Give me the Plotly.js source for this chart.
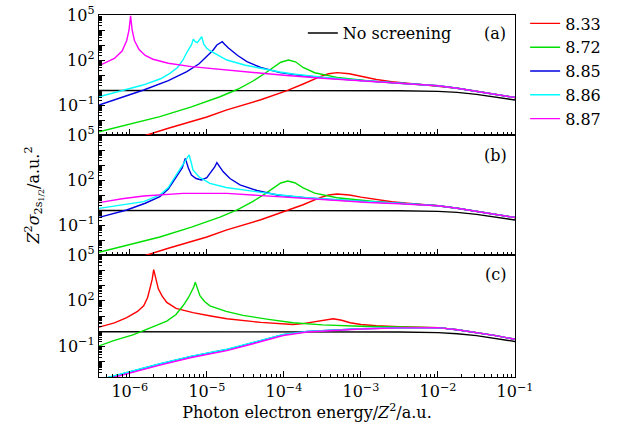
<!DOCTYPE html>
<html><head><meta charset="utf-8">
<script src="https://cdn.plot.ly/plotly-3.0.1.min.js"></script>
<style>html,body{margin:0;padding:0;background:#fff}#chart{width:620px;height:432px}</style>
</head><body><div id="chart"></div>
<script>
// Screening parameters (legend) and colours
const labels = ['8.33', '8.72', '8.85', '8.86', '8.87'];
const colors = ['#ff0000', '#00e000', '#0000e0', '#00ffff', '#ff00ff'];

// Points: [log10(E/Z^2 in a.u.), log10(Z^2 sigma in a.u.^2)]
const noScreening = [[-6.4,-0.03],[-4,-0.03],[-3,-0.03],[-2.5,-0.05],[-2,-0.09],[-1.75,-0.16],[-1.5,-0.29],[-1.25,-0.46],[-1,-0.67]];
const tailAB = [[-2.0,0.28],[-1.75,0.12],[-1.5,-0.08],[-1.25,-0.28],[-1.0,-0.5]];
const tailC  = [[-2.0,0.24],[-1.75,0.1],[-1.5,-0.09],[-1.25,-0.29],[-1.0,-0.53]];

// panel (a)
const a833 = [[-6.4,-4.0],[-5.78,-3.0],[-5.5,-2.55],[-5.0,-1.8],[-4.74,-1.33],[-4.3,-0.65],[-3.96,-0.04],[-3.75,0.4],[-3.53,0.89],[-3.42,1.08],[-3.31,1.16],[-3.15,1.08],[-3.0,0.92],[-2.8,0.7],[-2.6,0.56],[-2.4,0.45]];
const a872 = [[-6.4,-2.78],[-6.0,-2.25],[-5.61,-1.78],[-5.2,-1.12],[-4.83,-0.45],[-4.6,0.05],[-4.4,0.6],[-4.25,1.1],[-4.14,1.52],[-4.04,1.85],[-3.94,2.0],[-3.85,1.88],[-3.75,1.5],[-3.6,1.15],[-3.31,0.84],[-3.0,0.66],[-2.8,0.56],[-2.5,0.45]];
const a885 = [[-6.4,-1.0],[-6.1,-0.5],[-5.82,0.0],[-5.5,0.62],[-5.26,1.22],[-5.1,1.75],[-5.0,2.22],[-4.92,2.65],[-4.87,3.0],[-4.83,3.15],[-4.80,3.22],[-4.77,3.05],[-4.72,2.8],[-4.6,2.3],[-4.48,1.89],[-4.3,1.5],[-4.05,1.16],[-3.8,0.98],[-3.5,0.82],[-3.0,0.63],[-2.5,0.47]];
const a886 = [[-6.4,-0.45],[-6.1,-0.05],[-5.83,0.33],[-5.6,0.75],[-5.48,1.11],[-5.38,1.5],[-5.31,2.0],[-5.25,2.6],[-5.2,3.0],[-5.176,3.38],[-5.15,3.22],[-5.124,3.16],[-5.09,3.35],[-5.067,3.55],[-5.04,3.05],[-5.0,2.78],[-4.96,2.62],[-4.85,2.3],[-4.74,2.0],[-4.5,1.65],[-4.31,1.44],[-4.05,1.2],[-3.88,1.07],[-3.5,0.85],[-3.0,0.63],[-2.5,0.47]];
const a887 = [[-6.4,1.62],[-6.2,2.1],[-6.1,2.6],[-6.04,3.3],[-6.01,4.0],[-5.99,4.95],[-5.97,4.0],[-5.94,3.3],[-5.88,2.7],[-5.8,2.3],[-5.7,2.05],[-5.5,1.78],[-5.2,1.56],[-4.8,1.35],[-4.4,1.16],[-4.0,0.98],[-3.5,0.78],[-3.0,0.62],[-2.5,0.47]];

// panel (b)
const b833 = [[-6.4,-4.0],[-5.78,-3.0],[-5.5,-2.55],[-5.0,-1.8],[-4.74,-1.33],[-4.3,-0.65],[-3.96,-0.06],[-3.75,0.35],[-3.53,0.82],[-3.42,1.0],[-3.31,1.07],[-3.15,1.0],[-3.0,0.86],[-2.8,0.68],[-2.6,0.55],[-2.4,0.45]];
const b872 = [[-6.4,-2.82],[-6.0,-2.28],[-5.61,-1.8],[-5.2,-1.14],[-4.83,-0.47],[-4.6,0.03],[-4.4,0.58],[-4.25,1.06],[-4.14,1.48],[-4.04,1.8],[-3.95,1.93],[-3.86,1.82],[-3.75,1.47],[-3.6,1.12],[-3.31,0.82],[-3.0,0.65],[-2.8,0.55],[-2.5,0.45]];
const b885 = [[-6.4,-0.49],[-6.04,0.0],[-5.8,0.45],[-5.61,0.89],[-5.5,1.4],[-5.39,2.22],[-5.32,2.8],[-5.28,3.44],[-5.24,2.8],[-5.2,2.33],[-5.14,2.1],[-5.07,2.0],[-5.0,2.15],[-4.96,2.44],[-4.9,2.85],[-4.87,3.16],[-4.83,2.85],[-4.79,2.56],[-4.7,2.1],[-4.57,1.67],[-4.35,1.3],[-4.09,1.0],[-3.7,0.8],[-3.3,0.64],[-3.0,0.57],[-2.5,0.45]];
const b886 = [[-6.4,0.11],[-6.1,0.35],[-5.82,0.56],[-5.61,1.0],[-5.5,1.5],[-5.44,2.0],[-5.35,2.7],[-5.28,3.2],[-5.23,3.67],[-5.2,3.1],[-5.18,2.67],[-5.1,2.2],[-4.96,1.78],[-4.75,1.5],[-4.53,1.33],[-4.2,1.1],[-4.05,1.0],[-3.7,0.82],[-3.3,0.66],[-3.0,0.58],[-2.5,0.45]];
const b887 = [[-6.4,0.49],[-6.1,0.75],[-5.82,0.93],[-5.5,1.07],[-5.31,1.11],[-4.74,1.11],[-4.4,1.0],[-4.05,0.89],[-3.7,0.75],[-3.31,0.62],[-2.9,0.5],[-2.5,0.42]];

// panel (c)
const c833 = [[-6.4,0.27],[-6.2,0.55],[-6.04,0.89],[-5.9,1.3],[-5.82,1.67],[-5.77,2.2],[-5.74,2.78],[-5.71,3.4],[-5.69,4.04],[-5.66,3.3],[-5.63,2.78],[-5.58,2.3],[-5.52,1.89],[-5.4,1.5],[-5.18,1.22],[-4.95,1.0],[-4.74,0.82],[-4.3,0.58],[-3.88,0.44],[-3.75,0.5],[-3.62,0.6],[-3.48,0.75],[-3.36,0.82],[-3.25,0.72],[-3.14,0.56],[-3.0,0.44],[-2.8,0.36],[-2.5,0.3]];
const c872 = [[-6.4,-0.96],[-6.2,-0.6],[-5.95,-0.22],[-5.75,0.2],[-5.52,0.67],[-5.4,1.1],[-5.31,1.67],[-5.24,2.2],[-5.2,2.56],[-5.17,2.9],[-5.15,3.22],[-5.12,2.8],[-5.09,2.33],[-5.03,1.95],[-4.96,1.67],[-4.75,1.3],[-4.53,1.04],[-4.2,0.78],[-3.88,0.56],[-3.5,0.42],[-3.01,0.33],[-2.5,0.29]];
const c885 = [[-6.4,-3.2],[-6.0,-2.65],[-5.61,-2.15],[-5.2,-1.65],[-4.74,-1.2],[-4.4,-0.75],[-4.01,-0.22],[-3.7,-0.02],[-3.31,0.1],[-3.0,0.16],[-2.5,0.22]];
const c886 = [[-6.4,-3.18],[-6.0,-2.63],[-5.61,-2.13],[-5.2,-1.63],[-4.74,-1.18],[-4.4,-0.73],[-4.01,-0.21],[-3.7,-0.01],[-3.31,0.1],[-3.0,0.16],[-2.5,0.22]];
const c887 = [[-6.4,-3.28],[-6.0,-2.72],[-5.61,-2.22],[-5.2,-1.72],[-4.74,-1.27],[-4.4,-0.82],[-4.01,-0.28],[-3.7,-0.05],[-3.31,0.08],[-3.0,0.15],[-2.5,0.22]];

const panelA = [a833, a872, a885, a886, a887];
const panelB = [b833, b872, b885, b886, b887];
const panelC = [c833, c872, c885, c886, c887];

const FONT = "'DejaVu Serif', 'Liberation Serif', serif";
const FS = 16;
const pow10 = v => Math.pow(10, v);

function mk(pts, color, xa, ya, name, show, legend) {
  return {
    x: pts.map(p => pow10(p[0])), y: pts.map(p => pow10(p[1])),
    xaxis: xa, yaxis: ya, type: 'scatter', mode: 'lines',
    line: {color: color, width: 1.4}, name: name, showlegend: show,
    legend: legend || 'legend', hoverinfo: 'skip'
  };
}

const traces = [];
// panel (a) is top: x3/y3
traces.push(mk(noScreening, '#000', 'x3', 'y3', 'No screening', true, 'legend2'));
panelA.forEach((d, i) => traces.push(mk(d.concat(tailAB), colors[i], 'x3', 'y3', labels[i], true)));
traces.push(mk(noScreening, '#000', 'x2', 'y2', 'No screening', false));
panelB.forEach((d, i) => traces.push(mk(d.concat(tailAB), colors[i], 'x2', 'y2', labels[i], false)));
traces.push(mk(noScreening, '#000', 'x', 'y', 'No screening', false));
panelC.forEach((d, i) => traces.push(mk(d.concat(tailC), colors[i], 'x', 'y', labels[i], false)));

const sup = n => '10<sup>' + String(n).replace('-', '\u2212') + '</sup>';
const xDec = [-6, -5, -4, -3, -2, -1];
const xMinor = [];
for (let e = -7; e <= -2; e++) for (let m = 2; m <= 9; m++) xMinor.push(m * pow10(e));
const yDec = [-3, -2, -1, 0, 1, 2, 3, 4, 5];
const yLab = {'-1': sup(-1), '2': sup(2), '5': sup(5)};
const yMinor = [];
for (let e = -3; e <= 4; e++) for (let m = 2; m <= 9; m++) yMinor.push(m * pow10(e));

function xax(anchor, labelsOn) {
  return {
    type: 'log', range: [-6.4, -1], anchor: anchor, domain: [0, 1],
    tickvals: xDec.map(pow10), ticktext: xDec.map(sup),
    showticklabels: labelsOn, ticks: 'inside', ticklen: 6, tickcolor: '#000', tickwidth: 1,
    minor: {tickvals: xMinor, ticks: 'inside', ticklen: 3, tickcolor: '#000', tickwidth: 1},
    showline: true, mirror: true, linecolor: '#000', linewidth: 1.2,
    showgrid: false, zeroline: false,
    tickfont: {family: FONT, size: FS, color: '#000'}
  };
}
function yax(anchorX, dom) {
  return {
    type: 'log', range: [-3, 5], anchor: anchorX, domain: dom,
    tickvals: yDec.map(pow10), ticktext: yDec.map(d => yLab[String(d)] || ''),
    ticks: 'inside', ticklen: 6, tickcolor: '#000', tickwidth: 1,
    minor: {tickvals: yMinor, ticks: 'inside', ticklen: 3, tickcolor: '#000', tickwidth: 1},
    showline: true, mirror: true, linecolor: '#000', linewidth: 1.2,
    showgrid: false, zeroline: false,
    tickfont: {family: FONT, size: FS, color: '#000'}
  };
}

const xa = xax('y', true);
xa.title = {text: 'Photon electron energy/<i>Z</i><sup>2</sup>/a.u.', font: {family: FONT, size: FS, color: '#000'}, standoff: 6};
const ya2 = yax('x2', [0.337, 0.6685]);
ya2.title = {text: '<i>Z</i><sup>2</sup><i>σ</i><sub>2s<sub>1/2</sub></sub>/a.u.<sup>2</sup>', font: {family: FONT, size: FS, color: '#000'}, standoff: 14};

const annFont = {family: FONT, size: FS, color: '#000'};
const layout = {
  width: 620, height: 432,
  margin: {l: 99, r: 105, t: 15, b: 55, autoexpand: false},
  paper_bgcolor: '#fff', plot_bgcolor: '#fff',
  font: {family: FONT, size: FS, color: '#000'},
  xaxis: xa, xaxis2: xax('y2', false), xaxis3: xax('y3', false),
  yaxis: yax('x', [0, 0.337]), yaxis2: ya2, yaxis3: yax('x3', [0.6685, 1]),
  showlegend: true,
  legend: {x: 0.847, y: 0.985, xref: 'container', yref: 'container', xanchor: 'left', yanchor: 'top', bgcolor: 'rgba(0,0,0,0)',
           font: {family: FONT, size: FS, color: '#000'}, itemwidth: 30, tracegroupgap: 0},
  legend2: {x: 0.49, y: 0.997, xanchor: 'left', yanchor: 'top', bgcolor: 'rgba(0,0,0,0)',
           font: {family: FONT, size: FS, color: '#000'}, itemwidth: 30},
  annotations: [
    {text: '(a)', x: 0.952, y: 0.950, xref: 'paper', yref: 'paper', xanchor: 'center', yanchor: 'middle', showarrow: false, font: annFont},
    {text: '(b)', x: 0.952, y: 0.613, xref: 'paper', yref: 'paper', xanchor: 'center', yanchor: 'middle', showarrow: false, font: annFont},
    {text: '(c)', x: 0.952, y: 0.282, xref: 'paper', yref: 'paper', xanchor: 'center', yanchor: 'middle', showarrow: false, font: annFont}
  ]
};

Plotly.newPlot('chart', traces, layout, {displayModeBar: false, staticPlot: true});
</script>
</body></html>
